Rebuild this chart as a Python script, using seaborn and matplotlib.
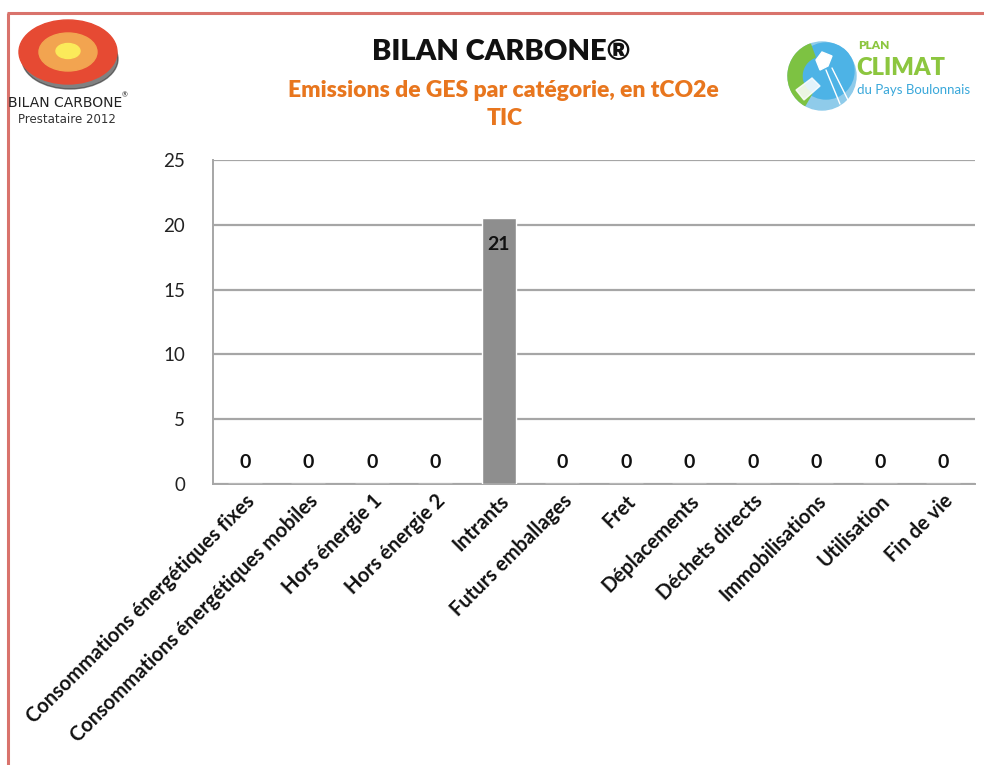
import matplotlib
matplotlib.use("Agg")
import matplotlib.pyplot as plt
from matplotlib.patches import Ellipse, Circle, Polygon, Wedge
import seaborn as sns
import pandas as pd

categories = [
    "Consommations énergétiques fixes",
    "Consommations énergétiques mobiles",
    "Hors énergie 1",
    "Hors énergie 2",
    "Intrants",
    "Futurs emballages",
    "Fret",
    "Déplacements",
    "Déchets directs",
    "Immobilisations",
    "Utilisation",
    "Fin de vie",
]
emissions = [0, 0, 0, 0, 20.54, 0, 0, 0, 0, 0, 0, 0]
y_ticks = [0, 5, 10, 15, 20, 25]

title = "BILAN CARBONE®"
subtitle = "Emissions de GES par catégorie, en tCO2e"
entity = "TIC"

sns.set_theme(style="white")
plt.rcParams["font.family"] = ["Lato", "DejaVu Sans"]

W, H = 984, 765
fig = plt.figure(figsize=(W / 100, H / 100), dpi=100)
fig.patch.set_facecolor("white")

df = pd.DataFrame({"categorie": categories, "tCO2e": emissions})

ax = fig.add_axes([213 / W, 1 - 484 / H, (975 - 213) / W, (484 - 160) / H])
sns.barplot(data=df, x="categorie", y="tCO2e", color="#8E8E8E",
            saturation=1, width=0.54, ax=ax, zorder=3)
ax.set_ylim(0, 25)
ax.set_yticks(y_ticks)
ax.set_yticklabels([str(t) for t in y_ticks], fontsize=13.5, color="#222222")
ax.set_xlabel("")
ax.set_ylabel("")
ax.yaxis.grid(True, color="#A6A6A6", linewidth=1.6, zorder=0)
ax.xaxis.grid(False)
ax.set_axisbelow(True)
for side in ["top", "right"]:
    ax.spines[side].set_visible(False)
for side in ["left", "bottom"]:
    ax.spines[side].set_color("#A6A6A6")
    ax.spines[side].set_linewidth(1.4)
ax.tick_params(axis="y", length=0, pad=20)
ax.tick_params(axis="x", length=0, pad=5)
ax.set_xticks(range(len(categories)))
ax.set_xticklabels(categories, rotation=45, ha="right", va="top",
                   rotation_mode="anchor", fontsize=14.5, fontweight="bold",
                   color="#111111")

# value labels: inside the top of non-empty bars, above empty ones
for i, v in enumerate(emissions):
    label = f"{int(round(v))}"
    offset = -25 if v > 0 else 9
    ax.annotate(label, (i, v), xytext=(0, offset), textcoords="offset points",
                ha="center", va="bottom", fontsize=14, fontweight="bold",
                color="#111111", zorder=5)

# overlay in pixel coordinates for frame, titles and logos
ov2 = fig.add_axes([0, 0, 1, 1], zorder=10)
ov2.set_xlim(0, W)
ov2.set_ylim(H, 0)
ov2.axis("off")
ov2.patch.set_alpha(0)

frame = "#D9736C"
ov2.plot([7.5, 7.5], [13, H], color=frame, linewidth=2.2, solid_capstyle="butt")
ov2.plot([7, W], [13, 13], color=frame, linewidth=2.2, solid_capstyle="butt")

ov2.text(501, 52, title, ha="center", va="center", fontsize=21,
         fontweight="heavy", color="#111111")
ov2.text(503, 90, subtitle, ha="center", va="center", fontsize=16.5,
         fontweight="heavy", color="#E8761E")
ov2.text(505, 118, entity, ha="center", va="center", fontsize=16.5,
         fontweight="heavy", color="#E8761E")

# left logo: concentric target
ov2.add_patch(Ellipse((70, 59), 96, 60, color="#2E2E2E", alpha=0.6, zorder=1))
ov2.add_patch(Ellipse((68, 52), 98, 64, color="#E64A33", zorder=2))
ov2.add_patch(Ellipse((68, 52), 58, 38, color="#F2A450", zorder=3))
ov2.add_patch(Ellipse((68, 51), 24, 15, color="#FBEA5A", zorder=4))
ov2.text(65, 103, "BILAN CARBONE", ha="center", va="center", fontsize=10,
         family=["Liberation Sans Narrow", "DejaVu Sans"], color="#222222")
ov2.text(125, 95, "®", ha="center", va="center", fontsize=5, color="#222222")
ov2.text(67, 119, "Prestataire 2012", ha="center", va="center", fontsize=8.5,
         family=["Liberation Sans Narrow", "DejaVu Sans"], color="#333333")

# right logo: globe with meadow and butterfly
ov2.add_patch(Circle((822, 76), 34, color="#8FCBEA", zorder=1))
ov2.add_patch(Circle((826, 71), 28, color="#4DB3E6", zorder=2))
ov2.add_patch(Wedge((822, 76), 34, 120, 250, width=14, color="#7DC242", zorder=3))
ov2.add_patch(Polygon([[796, 90], [812, 78], [820, 86], [804, 100]],
                      closed=True, color="white", alpha=0.85, zorder=4))
ov2.add_patch(Polygon([[816, 60], [822, 52], [832, 56], [828, 66], [820, 70]],
                      closed=True, color="white", zorder=4))
ov2.plot([826, 840], [70, 104], color="white", linewidth=1, zorder=4)
ov2.plot([832, 848], [68, 100], color="white", linewidth=1, zorder=4)
ov2.text(858, 45, "PLAN", ha="left", va="center", fontsize=8.5,
         fontweight="heavy", color="#8CC63F")
ov2.text(856, 68, "CLIMAT", ha="left", va="center", fontsize=17,
         fontweight="heavy", color="#8CC63F")
ov2.text(857, 90, "du Pays Boulonnais", ha="left", va="center", fontsize=9.5,
         color="#3AA8DA")

fig.savefig("out.png", dpi=100, facecolor="white")
